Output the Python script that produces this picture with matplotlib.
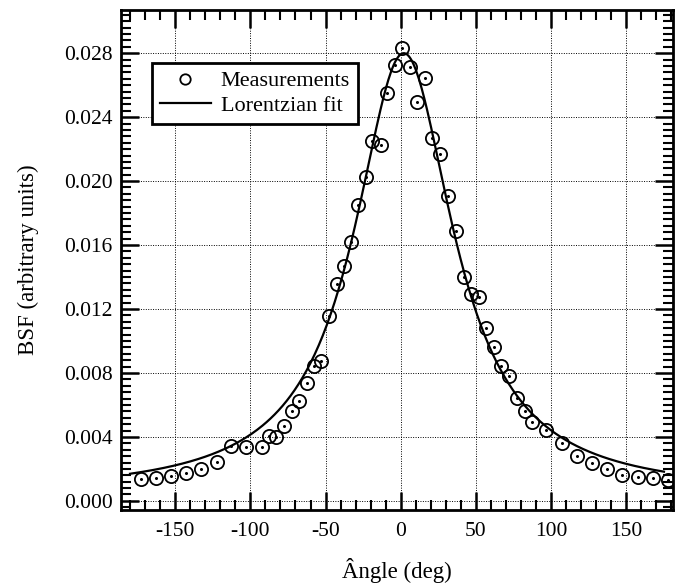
import matplotlib
matplotlib.use("Agg")
import matplotlib.pyplot as plt
import numpy as np
from matplotlib.lines import Line2D
from matplotlib.ticker import MultipleLocator

angle_deg = [
    -172.6, -162.7, -152.5, -142.6, -132.6, -122.4, -112.9, -102.7, -92.3,
    -87.9, -83.0, -77.9, -72.6, -67.5, -62.6, -58.0, -52.8, -47.8, -42.7,
    -37.8, -33.2, -28.3, -23.4, -18.8, -13.3, -9.1, -3.5, 1.1, 6.0, 10.8,
    16.0, 21.0, 26.3, 31.7, 36.5, 42.0, 46.5, 51.8, 56.9, 62.0, 66.8, 71.9,
    77.2, 82.3, 87.2, 96.7, 107.1, 117.1, 127.0, 137.2, 147.4, 157.6, 167.5,
    177.5,
]
bsf = [
    0.00135, 0.00145, 0.00156, 0.00173, 0.00198, 0.00245, 0.00343, 0.00339,
    0.00339, 0.00405, 0.00401, 0.00468, 0.00563, 0.00626, 0.00740, 0.00842,
    0.00873, 0.01156, 0.01357, 0.01467, 0.01621, 0.01852, 0.02027, 0.02251,
    0.02226, 0.02553, 0.02725, 0.02833, 0.02715, 0.02496, 0.02646, 0.02268,
    0.02172, 0.01908, 0.01690, 0.01400, 0.01291, 0.01274, 0.01079, 0.00960,
    0.00842, 0.00781, 0.00644, 0.00561, 0.00495, 0.00443, 0.00360, 0.00281,
    0.00235, 0.00200, 0.00162, 0.00148, 0.00141, 0.00131,
]

# Lorentzian fit parameters
fit_amp = 0.0276
fit_center = 2.0
fit_width = 40.4
fit_offset = 0.0004
fit_range = (-180.0, 175.0)

x_ticks = [-150, -100, -50, 0, 50, 100, 150]
y_ticks = [0.000, 0.004, 0.008, 0.012, 0.016, 0.020, 0.024, 0.028]

plt.rcParams["font.family"] = ["Liberation Serif", "DejaVu Serif"]

fig = plt.figure(figsize=(6.78, 5.85), dpi=100)
ax = fig.add_axes([121 / 678, 1 - 510 / 585, 552 / 678, 500 / 585])

xf = np.linspace(fit_range[0], fit_range[1], 400)
yf = fit_amp / (1 + ((xf - fit_center) / fit_width) ** 2) + fit_offset
ax.plot(xf, yf, color="black", lw=1.6, zorder=3)

ax.plot(angle_deg, bsf, linestyle="none", marker="o", ms=9.5, mfc="none",
        mec="black", mew=1.3, zorder=4)
ax.plot(angle_deg, bsf, linestyle="none", marker="o", ms=1.2, color="black",
        zorder=5)

ax.set_xlim(-186, 181)
ax.set_ylim(-0.00057, 0.0307)
ax.set_xticks(x_ticks)
ax.set_xticklabels([str(t) for t in x_ticks])
ax.set_yticks(y_ticks)
ax.set_yticklabels([f"{t:.3f}" for t in y_ticks])
ax.xaxis.set_minor_locator(MultipleLocator(10))
ax.yaxis.set_minor_locator(MultipleLocator(0.0004))

ax.tick_params(which="both", direction="in", top=True, right=True,
               labelsize=15.5)
ax.tick_params(axis="x", pad=9)
ax.tick_params(axis="y", pad=6)
ax.tick_params(which="major", length=13, width=1.8)
ax.tick_params(which="minor", length=7, width=1.5)
for spine in ax.spines.values():
    spine.set_linewidth(2)

ax.grid(True, which="major", color="black", linestyle=(0, (1, 1.5)), lw=0.7)

ax.set_xlabel("Ângle (deg)", fontsize=16.5, labelpad=12)
ax.set_ylabel("BSF (arbitrary units)", fontsize=16.5, labelpad=18)

handles = [
    Line2D([], [], linestyle="none", marker="o", ms=7.5, mfc="none",
           mec="black", mew=1.3),
    Line2D([], [], color="black", lw=1.6),
]
leg = ax.legend(handles, ["Measurements", "Lorentzian fit"], loc="upper left",
                bbox_to_anchor=(0.056, 0.894), fontsize=16, frameon=True,
                fancybox=False, edgecolor="black", framealpha=1,
                handlelength=2.3, borderpad=0.35, labelspacing=0.18,
                handletextpad=0.45, borderaxespad=0)
leg.get_frame().set_linewidth(2)

fig.savefig("out.png", dpi=100)
